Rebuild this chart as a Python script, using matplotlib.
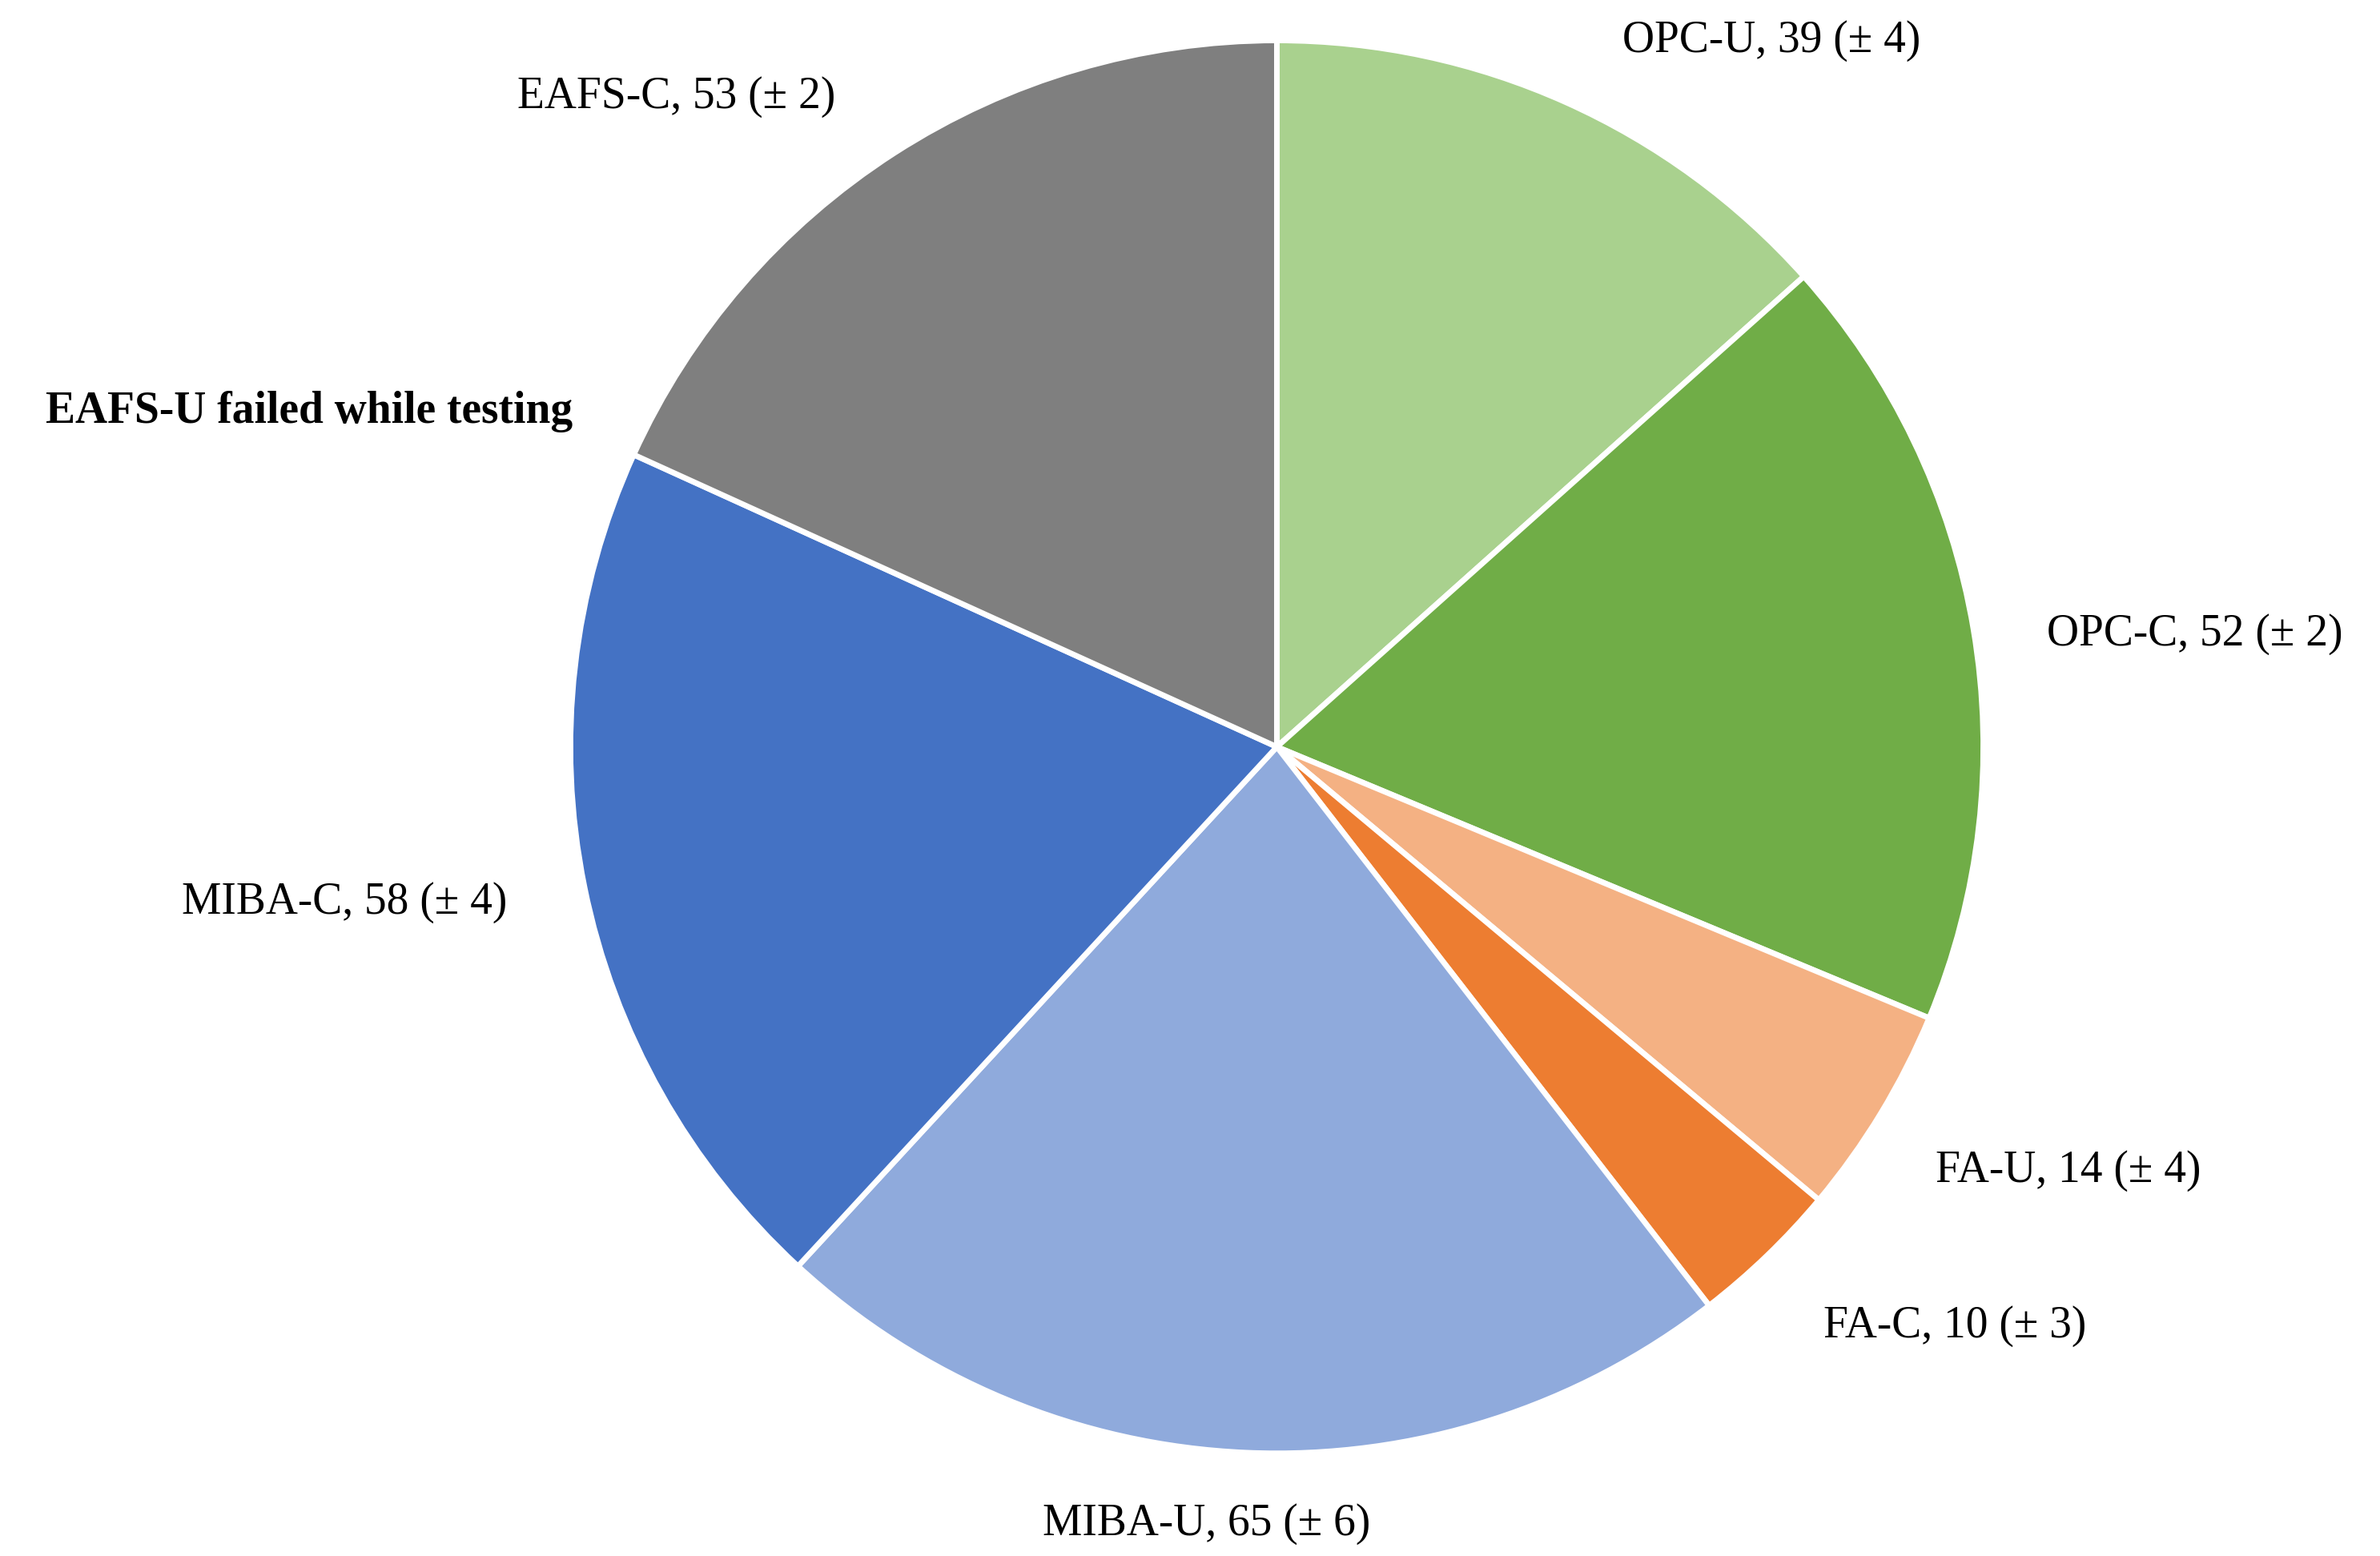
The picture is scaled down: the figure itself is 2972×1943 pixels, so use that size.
import matplotlib.pyplot as plt

labels = ['OPC-U', 'OPC-C', 'FA-U', 'FA-C', 'MIBA-U', 'MIBA-C', 'EAFS-C']
values = [39, 52, 14, 10, 65, 58, 53]
errors = [4, 2, 4, 3, 6, 4, 2]
colors = ['#A9D18E', '#70AD47', '#F4B183', '#ED7D31', '#8FAADC', '#4472C4', '#7F7F7F']
# label positions in units of pie radius
label_pos = [(0.70, 1.00), (1.30, 0.16), (1.12, -0.60), (0.96, -0.82),
             (-0.10, -1.10), (-1.32, -0.22), (-0.85, 0.92)]
note = 'EAFS-U failed while testing'
note_pos = (-1.37, 0.475)

plt.rcParams['font.family'] = ['Liberation Serif', 'DejaVu Serif']

W, H = 29.72, 19.43
fig = plt.figure(figsize=(W, H), dpi=100)
r_in = 0.454 * H
cx, cy = 0.5365 * W, 0.52 * H
ax = fig.add_axes([(cx - r_in) / W, (cy - r_in) / H, 2 * r_in / W, 2 * r_in / H])

ax.pie(values, colors=colors, startangle=90, counterclock=False,
       wedgeprops=dict(edgecolor='white', linewidth=5))
for lab, v, e, (x, y) in zip(labels, values, errors, label_pos):
    ax.text(x, y, f'{lab}, {v} (± {e})', ha='center', va='center', fontsize=40)
ax.text(*note_pos, note, ha='center', va='center', fontsize=40, fontweight='bold')
ax.set_xlim(-1, 1)
ax.set_ylim(-1, 1)
ax.set_aspect('equal')
ax.axis('off')

fig.savefig('out.png', dpi=100)
